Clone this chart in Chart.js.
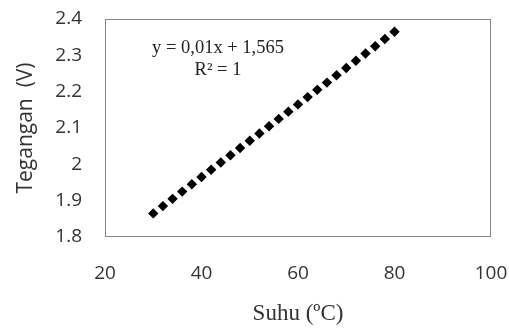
<!DOCTYPE html>
<html>
<head>
<meta charset="utf-8">
<script src="https://cdn.jsdelivr.net/npm/chart.js@4"></script>
<style>
  html, body { margin: 0; padding: 0; background: #fff; overflow: hidden; }
  canvas { display: block; }
</style>
</head>
<body>
<canvas id="chartSuhu" width="509" height="330"></canvas>
<script>
// Suhu (°C) vs Tegangan (V)
const suhu = [30, 32, 34, 36, 38, 40, 42, 44, 46, 48, 50, 52, 54, 56, 58, 60, 62, 64, 66, 68, 70, 72, 74, 76, 78, 80];
const tegangan = [1.865, 1.885, 1.905, 1.925, 1.945, 1.965, 1.985, 2.005, 2.025, 2.045, 2.065, 2.085, 2.105,
  2.125, 2.145, 2.165, 2.185, 2.205, 2.225, 2.245, 2.265, 2.285, 2.305, 2.325, 2.345, 2.365];
const xTicks = [20, 40, 60, 80, 100];
const yTicks = [1.8, 1.9, 2.0, 2.1, 2.2, 2.3, 2.4];
const trendText = ["y = 0,01x + 1,565", "R² = 1"];

// plot frame + trendline equation
const framePlugin = {
  id: "frame",
  afterDraw(chart) {
    const { ctx, chartArea: a } = chart;
    ctx.save();
    ctx.strokeStyle = "#868686";
    ctx.lineWidth = 1;
    ctx.strokeRect(a.left + 0.5, a.top + 0.5, a.width - 1, a.height - 1);
    ctx.fillStyle = "#222";
    ctx.font = "18.5px 'Liberation Serif'";
    ctx.textAlign = "center";
    ctx.textBaseline = "middle";
    ctx.fillText(trendText[0], a.left + 113, a.top + 29);
    ctx.fillText(trendText[1], a.left + 113, a.top + 51);
    ctx.restore();
  }
};

new Chart(document.getElementById("chartSuhu"), {
  type: "scatter",
  data: {
    datasets: [{
      data: suhu.map((x, i) => ({ x: x, y: tegangan[i] })),
      pointStyle: "rectRot",
      pointRadius: 5.2,
      backgroundColor: "#000",
      borderColor: "#000",
      borderWidth: 0
    }]
  },
  options: {
    responsive: false,
    animation: false,
    layout: { autoPadding: false, padding: { top: 19, right: 18, bottom: 0, left: 0 } },
    plugins: { legend: { display: false }, tooltip: { enabled: false } },
    scales: {
      x: {
        type: "linear",
        min: 20, max: 100,
        afterBuildTicks: s => { s.ticks = xTicks.map(v => ({ value: v })); },
        afterFit: s => { s.paddingLeft = 0; s.paddingRight = 0; s.height = 93; },
        grid: { display: false, drawTicks: false },
        border: { display: false },
        ticks: { padding: 25, color: "#333", font: { family: "'Open Sans'", size: 19 } },
        title: { display: true, text: "Suhu (ºC)", color: "#333", padding: { top: 0, bottom: 2 },
          font: { family: "'Liberation Serif'", size: 23 } }
      },
      y: {
        min: 1.8, max: 2.4,
        afterBuildTicks: s => { s.ticks = yTicks.map(v => ({ value: v })); },
        afterFit: s => { s.paddingTop = 0; s.paddingBottom = 0; s.width = 105; },
        grid: { display: false, drawTicks: false },
        border: { display: false },
        ticks: { padding: 23, color: "#333", font: { family: "'Open Sans'", size: 19 },
          callback: v => String(Math.round(v * 10) / 10) },
        title: { display: true, text: "Tegangan  (V)", color: "#333", padding: { top: 13, bottom: 0 },
          font: { family: "'Open Sans'", size: 21 } }
      }
    }
  },
  plugins: [framePlugin]
});
</script>
</body>
</html>
